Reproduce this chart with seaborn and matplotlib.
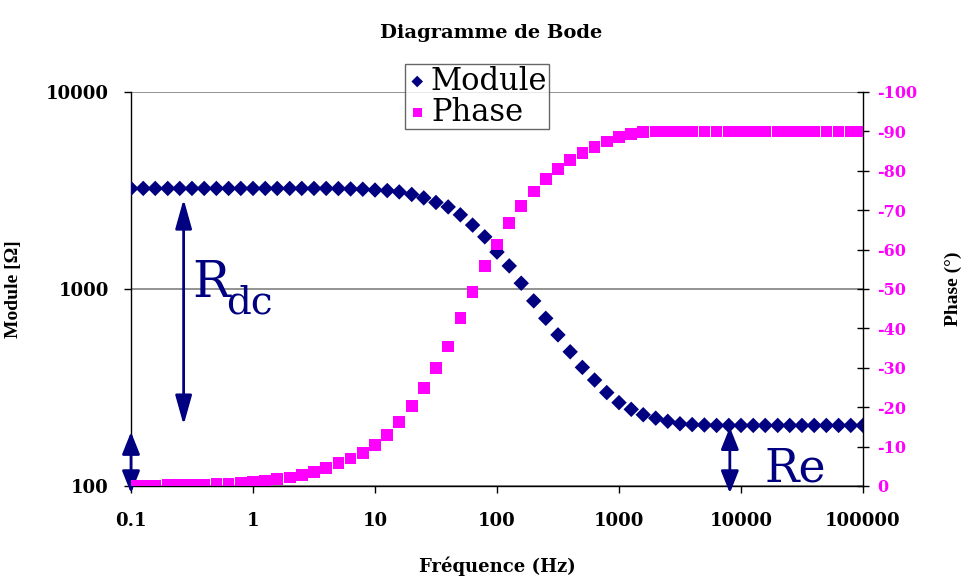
import matplotlib
matplotlib.use('Agg')
import matplotlib.pyplot as plt
import seaborn as sns
import pandas as pd

# fréquences (Hz), 10 points par décade de 0.1 à 100000
frequence = [0.1, 0.126, 0.158, 0.2, 0.251, 0.316, 0.398, 0.501, 0.631, 0.794,
             1, 1.26, 1.58, 2.0, 2.51, 3.16, 3.98, 5.01, 6.31, 7.94,
             10, 12.6, 15.8, 20, 25.1, 31.6, 39.8, 50.1, 63.1, 79.4,
             100, 126, 158, 200, 251, 316, 398, 501, 631, 794,
             1000, 1260, 1580, 2000, 2510, 3160, 3980, 5010, 6310, 7940,
             10000, 12600, 15800, 20000, 25100, 31600, 39800, 50100, 63100, 79400,
             100000]

module = [3240, 3240, 3240, 3240, 3240, 3240, 3240, 3240, 3240, 3240,
          3240, 3240, 3240, 3240, 3240, 3240, 3240, 3235, 3220, 3210,
          3180, 3160, 3110, 3020, 2900, 2750, 2610, 2380, 2110, 1840,
          1540, 1310, 1070, 870, 710, 585, 480, 400, 345, 298,
          265, 245, 230, 221, 213, 207, 205, 204, 203, 203,
          203, 203, 203, 203, 203, 203, 203, 203, 203, 203,
          203]

phase = [-0.1, -0.1, -0.15, -0.2, -0.25, -0.3, -0.35, -0.45, -0.55, -0.7,
         -1.0, -1.3, -1.7, -2.2, -2.8, -3.6, -4.5, -5.8, -7.0, -8.3,
         -10.4, -13.0, -16.2, -20.3, -24.8, -29.9, -35.4, -42.6, -49.3, -55.8,
         -61.3, -66.8, -71.1, -74.7, -77.9, -80.4, -82.7, -84.5, -86.1, -87.4,
         -88.5, -89.3, -89.8, -90, -90, -90, -90, -90, -90, -90,
         -90, -90, -90, -90, -90, -90, -90, -90, -90, -90,
         -90]

x_ticks = [0.1, 1, 10, 100, 1000, 10000, 100000]
x_labels = ['0.1', '1', '10', '100', '1000', '10000', '100000']
y_ticks = [100, 1000, 10000]
y_labels = ['100', '1000', '10000']
phase_ticks = [0, -10, -20, -30, -40, -50, -60, -70, -80, -90, -100]
phase_labels = ['0', '-10', '-20', '-30', '-40', '-50', '-60', '-70', '-80', '-90', '-100']

df = pd.DataFrame({'Fréquence': frequence, 'Module': module, 'Phase': phase})

bleu = '#000080'
rose = '#FF00FF'

sns.set_style('white')
plt.rcParams['font.family'] = ['DejaVu Serif']
plt.rcParams['text.color'] = 'black'
plt.rcParams['axes.labelcolor'] = 'black'
plt.rcParams['xtick.color'] = 'black'
plt.rcParams['ytick.color'] = 'black'

fig = plt.figure(figsize=(9.62, 5.79), dpi=100)
ax = fig.add_axes([131 / 962, 1 - 486 / 579, 732 / 962, 394 / 579])
ax2 = ax.twinx()

sns.scatterplot(data=df, x='Fréquence', y='Module', ax=ax, marker='D', s=62,
                color=bleu, edgecolor='none', legend=False, zorder=3)
sns.scatterplot(data=df, x='Fréquence', y='Phase', ax=ax2, marker='s', s=70,
                color=rose, edgecolor='none', legend=False, zorder=3)

ax.set_xscale('log')
ax.set_yscale('log')
ax.set_xlim(0.1, 100000)
ax.set_ylim(100, 10000)
ax.set_xticks(x_ticks, x_labels)
ax.set_yticks(y_ticks, y_labels)
ax.minorticks_off()
ax.yaxis.grid(True, color='#808080', lw=1.2)
ax.xaxis.grid(False)

ax2.set_ylim(0, -100)
ax2.set_yticks(phase_ticks, phase_labels)

for s in ['top', 'right']:
    ax.spines[s].set_visible(False)
for s in ['top', 'left', 'bottom']:
    ax2.spines[s].set_visible(False)
for s in ['left', 'bottom']:
    ax.spines[s].set_color('black')
    ax.spines[s].set_linewidth(1)
ax2.spines['right'].set_color('black')
ax2.spines['right'].set_linewidth(1)

ax.tick_params(axis='both', direction='out', length=5, width=1, color='black',
               labelsize=13, bottom=True, left=True)
ax.tick_params(axis='y', pad=11)
ax.tick_params(axis='x', pad=14)
for lab in ax.get_xticklabels() + ax.get_yticklabels():
    lab.set_fontweight('bold')
ax2.tick_params(axis='y', direction='inout', length=9, width=1, color='black',
                labelsize=11.5, labelcolor=rose, pad=6)
for lab in ax2.get_yticklabels():
    lab.set_fontweight('bold')

ax.set_xlabel('Fréquence (Hz)', fontsize=13, fontweight='bold')
ax.xaxis.set_label_coords(0.5, -(556 - 486) / 394)
ax.set_ylabel('Module [Ω]', fontsize=14, fontweight='bold',
              family=['Liberation Serif'])
ax.yaxis.set_label_coords((22 - 131) / 732, 0.5)
ax2.set_ylabel('Phase (°)', fontsize=14, fontweight='bold',
               family=['Liberation Serif'])
ax2.yaxis.set_label_coords((945 - 131) / 732, 0.5)
fig.text(491 / 962, 1 - 33 / 579, 'Diagramme de Bode', ha='center', va='center',
         fontsize=14, fontweight='bold')

# flèches R_dc et Re
fleche = dict(arrowstyle='<|-|>,head_length=1.0,head_width=0.28', color=bleu,
              lw=2, mutation_scale=18, shrinkA=0, shrinkB=0)
petite = dict(arrowstyle='<|-|>,head_length=0.75,head_width=0.3', color=bleu,
              lw=2, mutation_scale=18, shrinkA=0, shrinkB=0)
ax.annotate('', xy=(0.27, 2860), xytext=(0.27, 204), arrowprops=fleche)
ax.annotate('', xy=(0.1, 188), xytext=(0.1, 92), arrowprops=petite,
            annotation_clip=False)
ax.annotate('', xy=(8100, 199), xytext=(8100, 92), arrowprops=petite,
            annotation_clip=False)

fig.text(192 / 962, 1 - 297 / 579, 'R', fontsize=36, color=bleu)
fig.text(226 / 962, 1 - 314 / 579, 'dc', fontsize=28, color=bleu)
fig.text(765 / 962, 1 - 482 / 579, 'Re', fontsize=33, color=bleu)

h1 = ax.collections[0]
h2 = ax2.collections[0]
leg = fig.legend([h1, h2], ['Module', 'Phase'], loc='upper left',
                 bbox_to_anchor=(405 / 962, 1 - 64 / 579), fontsize=22,
                 frameon=True, fancybox=False, edgecolor='#404040',
                 borderpad=0.05, labelspacing=0.0, handletextpad=0.1,
                 handlelength=0.7, borderaxespad=0, markerscale=0.75)
leg.get_frame().set_linewidth(1)

fig.savefig('out.png', dpi=100)
